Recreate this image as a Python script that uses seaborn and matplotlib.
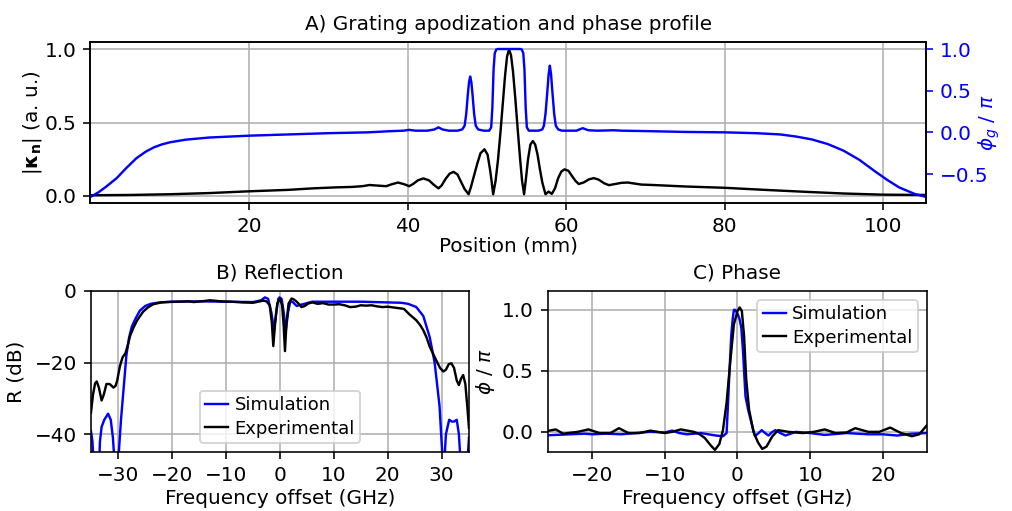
import matplotlib
matplotlib.use("Agg")
import matplotlib.pyplot as plt
import seaborn as sns

# ---------------- A) apodization and phase profile ----------------
pos_kappa = [0, 5, 10, 15, 20, 25, 28, 31, 33, 34.3, 35.2, 36.5, 37.3, 38.0, 38.8, 39.6, 40.2, 40.7, 41.3,
             42.0, 42.7, 43.3, 43.9, 44.3, 44.8, 45.3, 45.8, 46.3, 46.7, 47.2, 47.7, 48.0, 48.4, 48.8, 49.2,
             49.7, 50.1, 50.4, 50.6, 50.8, 51.1, 51.4, 51.7, 52.0, 52.3, 52.55, 52.8, 53.05, 53.3, 53.6, 53.9,
             54.2, 54.45, 54.7, 54.9, 55.2, 55.5, 55.8, 56.1, 56.4, 56.7, 57.0, 57.4, 57.8, 58.2, 58.6, 59.0,
             59.4, 59.8, 60.3, 60.8, 61.2, 61.6, 62.2, 62.9, 63.5, 64.1, 64.8, 65.4, 66.2, 67.0, 67.8, 68.5,
             69.5, 71, 75, 80, 85, 90, 95, 100, 105.4]
kappa = [0.003, 0.005, 0.01, 0.018, 0.03, 0.04, 0.05, 0.057, 0.06, 0.065, 0.073, 0.068, 0.065, 0.078, 0.09,
         0.078, 0.065, 0.08, 0.105, 0.118, 0.105, 0.075, 0.05, 0.07, 0.115, 0.15, 0.163, 0.145, 0.1, 0.045,
         0.01, 0.06, 0.14, 0.22, 0.29, 0.317, 0.28, 0.18, 0.1, 0.01, 0.1, 0.24, 0.42, 0.62, 0.82, 0.95, 1.0,
         0.96, 0.85, 0.66, 0.45, 0.25, 0.1, 0.01, 0.1, 0.25, 0.35, 0.373, 0.35, 0.28, 0.18, 0.09, 0.01,
         0.028, 0.012, 0.05, 0.12, 0.165, 0.18, 0.17, 0.13, 0.1, 0.08, 0.09, 0.112, 0.12, 0.11, 0.085,
         0.072, 0.08, 0.088, 0.09, 0.084, 0.076, 0.073, 0.063, 0.054, 0.04, 0.027, 0.015, 0.007, 0.005]

pos_phase = [0, 1, 2, 3.3, 4.5, 5.8, 7, 8, 9, 10, 12, 15, 20, 25, 30, 35, 38, 39.5, 40.2, 41, 42.5, 43.4,
             43.9, 44.4, 45.2, 46.3, 46.9, 47.2, 47.4, 47.6, 47.75, 47.9, 48.05, 48.2, 48.4, 48.6, 48.9, 49.6,
             50.3, 50.55, 50.7, 50.85, 51.0, 51.2, 51.4, 54.2, 54.4, 54.6, 54.75, 54.9, 55.05, 55.3, 56.5,
             57.0, 57.2, 57.4, 57.6, 57.8, 57.95, 58.1, 58.3, 58.5, 58.7, 59.0, 59.5, 61.3, 62.1, 62.8, 64,
             66, 67, 70, 75, 80, 84, 87, 89, 91, 93, 95, 97, 99, 100.5, 102, 104, 105.4]
phase_g = [-0.775, -0.72, -0.65, -0.55, -0.43, -0.31, -0.23, -0.18, -0.145, -0.12, -0.088, -0.062, -0.04,
           -0.025, -0.01, 0.0, 0.015, 0.02, 0.03, 0.02, 0.02, 0.035, 0.06, 0.035, 0.02, 0.02, 0.035, 0.08,
           0.22, 0.45, 0.6, 0.67, 0.6, 0.45, 0.22, 0.08, 0.035, 0.02, 0.02, 0.06, 0.3, 0.75, 0.95, 0.995,
           1.0, 1.0, 0.995, 0.95, 0.75, 0.3, 0.06, 0.02, 0.02, 0.035, 0.08, 0.22, 0.45, 0.7, 0.8, 0.7, 0.45,
           0.22, 0.08, 0.035, 0.02, 0.02, 0.05, 0.025, 0.02, 0.025, 0.02, 0.015, 0.005, 0.0, -0.01, -0.025,
           -0.05, -0.085, -0.14, -0.22, -0.33, -0.47, -0.57, -0.66, -0.74, -0.775]

# ---------------- B) Reflection ----------------
freq_sim_R = [-35.07, -34.8, -34.5, -34.0, -33.6, -33.4, -33.1, -32.6, -31.9, -31.4, -31.0, -30.6, -30.3,
              -29.9, -29.5, -29.0, -28.5, -28.0, -27.5, -26.9, -26.0, -25.0, -24.0, -22.3, -20, -15, -10, -5,
              -3.5, -2.8, -2.2, -1.6, -1.1, -0.7, -0.3, -0.1, 0.3, 0.7, 1.1, 1.5, 1.9, 2.3, 3.1, 4, 6, 10, 15,
              20, 22.5, 23.8, 25.3, 26.6, 27.8, 28.7, 29.6, 30.1, 30.4, 30.6, 30.8, 31.4, 31.9, 32.3, 32.8,
              33.2, 33.6, 34.0, 34.7, 35.07]
R_sim = [-39.2, -42, -50, -60, -50, -42, -38, -36, -34.3, -36, -41, -50, -60, -45, -36, -27, -18, -13, -10,
         -8, -5.5, -4.2, -3.6, -3.2, -3.0, -2.9, -3.0, -3.1, -2.6, -1.8, -2.2, -6, -11, -6, -2.2, -1.8, -2.2,
         -6, -11, -6, -3.0, -3.0, -4.2, -3.8, -3.0, -3.0, -3.0, -3.2, -3.3, -3.6, -4.5, -7, -13, -20, -32,
         -45, -60, -45, -40, -36, -36.5, -36.5, -36, -40, -50, -60, -50, -41]

freq_exp_R = [-35.07, -34.7, -34.3, -34.0, -33.6, -33.1, -32.7, -32.2, -31.6, -30.9, -30.5, -30.2, -29.7,
              -29.2, -28.7, -28.3, -27.8, -27.2, -26.5, -25.4, -24.5, -23.5, -22, -21, -19, -17, -16, -14,
              -13, -11, -9, -7, -5, -4, -3.1, -2.5, -1.9, -1.5, -1.24, -0.9, -0.5, 0, 0.4, 0.7, 0.93, 1.2,
              1.6, 2.16, 2.6, 3.1, 3.6, 4.0, 4.6, 5.25, 6, 7, 8, 9, 10, 11, 12, 13, 14, 15, 16, 17, 18, 19,
              20, 21, 22, 23, 24, 25.3, 26.0, 26.6, 27.2, 27.8, 28.4, 29, 29.7, 30.3, 30.8, 31.3, 31.8, 32.3,
              32.8, 33.2, 33.6, 34.0, 34.4, 34.8, 35.07]
R_exp = [-34, -29, -25.8, -25.3, -27, -30.6, -29, -26, -26, -27, -26.5, -25, -21, -18.5, -17.5, -15.5,
         -12.5, -10.3, -8.2, -5.8, -4.6, -3.7, -3.2, -3.1, -3.0, -2.9, -3.1, -2.8, -2.6, -2.9, -3.0, -3.2,
         -3.3, -3.0, -2.7, -2.9, -4, -9, -15.4, -9, -3.5, -2.1, -4, -10, -16.8, -9, -3.5, -2.1, -2.4, -3.0,
         -3.8, -4.5, -4.2, -3.5, -3.2, -3.6, -3.4, -3.8, -3.8, -3.7, -4.0, -4.5, -4.4, -4.0, -4.1, -4.0,
         -4.3, -4.5, -4.4, -4.6, -4.8, -5.0, -6.5, -8.2, -9.5, -11, -13, -15.6, -17.5, -19.4, -21.5, -22.5,
         -22, -20.5, -20.2, -21.5, -25, -26.3, -24.5, -23.5, -26, -33, -38.3]

# ---------------- C) Phase ----------------
freq_sim_phi = [-26.07, -25, -23, -21, -20, -18, -16, -14, -12, -10, -9, -8, -7, -5, -3, -2, -1.5, -1.33,
                -1.1, -0.86, -0.65, -0.49, -0.3, 0.07, 0.3, 0.53, 0.77, 0.95, 1.1, 1.47, 1.93, 2.4, 2.9,
                3.33, 3.8, 4.27, 4.7, 5.2, 5.9, 6.6, 8.0, 10, 12, 15, 18, 20, 22, 24, 26.07]
phi_sim = [-0.028, -0.025, -0.02, -0.015, -0.02, -0.015, -0.02, -0.01, 0.0, -0.005, 0.01, -0.01, -0.02,
           -0.01, -0.03, -0.036, -0.01, 0.2, 0.5, 0.79, 0.93, 1.0, 1.0, 0.96, 0.92, 0.85, 0.65, 0.45, 0.29,
           0.18, 0.07, -0.036, -0.01, 0.014, -0.01, -0.03, -0.005, 0.014, -0.01, -0.03, 0.0, -0.01, -0.025,
           -0.01, -0.02, -0.02, -0.03, -0.015, -0.01]

freq_exp_phi = [-26.07, -25, -24, -22, -20.5, -19, -17.5, -16.3, -15, -13.5, -12, -10, -9, -7.8, -6, -5.2,
                -4.5, -3.7, -3.1, -2.5, -2.0, -1.5, -1.0, -0.5, 0, 0.3, 0.6, 0.9, 1.2, 1.6, 2.2, 2.8, 3.4,
                4.0, 4.8, 5.6, 7, 9, 10.5, 12, 13.5, 15, 16.2, 18, 19.5, 21, 22.5, 24, 25, 26.07]
phi_exp = [0.008, 0.02, -0.015, 0.0, 0.02, -0.01, -0.01, 0.03, -0.01, -0.01, 0.01, -0.01, 0.0, 0.02, 0.0,
           -0.02, -0.05, -0.11, -0.148, -0.1, 0.014, 0.24, 0.57, 0.88, 0.99, 1.02, 0.99, 0.79, 0.43, 0.18,
           0.0, -0.084, -0.14, -0.12, -0.036, 0.014, 0.0, -0.01, 0.0, 0.02, -0.01, -0.005, 0.03, 0.0, 0.0,
           0.035, -0.01, -0.036, -0.02, 0.055]

plt.rcParams['font.family'] = ['DejaVu Sans']
plt.rcParams['font.size'] = 10
plt.rcParams['mathtext.fontset'] = 'dejavusans'

DPI = 144
fig = plt.figure(figsize=(1012 / DPI, 511 / DPI), dpi=DPI)
LW = 1.2
LEG = dict(fontsize=9, handlelength=1.3, handletextpad=0.35, borderpad=0.3, labelspacing=0.3)

# ---- Panel A ----
axA = fig.add_axes([0.0894, 0.6027, 0.8256, 0.3151])
sns.lineplot(x=pos_kappa, y=kappa, ax=axA, color='black', lw=LW, sort=False, estimator=None)
axA.set_xlim(0, 105.4)
axA.set_ylim(-0.05, 1.05)
axA.set_yticks([0.0, 0.5, 1.0])
axA.set_xticks([20, 40, 60, 80, 100])
axA.grid(True)
axA.set_xlabel('Position (mm)', labelpad=0)
axA.set_ylabel(r'$|\mathbf{\kappa_n}|$ (a. u.)')
axA.yaxis.set_label_coords(-0.056, 0.5)
axA.set_title('A) Grating apodization and phase profile', fontsize=10)

axA2 = axA.twinx()
sns.lineplot(x=pos_phase, y=phase_g, ax=axA2, color='blue', lw=LW, sort=False, estimator=None)
axA2.set_ylim(-0.848, 1.084)
axA2.set_yticks([-0.5, 0.0, 0.5, 1.0])
axA2.tick_params(axis='y', colors='blue')
axA2.set_ylabel(r'$\phi_g$ / $\pi$', color='blue')
axA2.yaxis.set_label_coords(1.061, 0.5)

# ---- Panel B ----
axB = fig.add_axes([0.0899, 0.1155, 0.3735, 0.3151])
sns.lineplot(x=freq_sim_R, y=R_sim, ax=axB, color='blue', lw=LW, sort=False, estimator=None,
             label='Simulation')
sns.lineplot(x=freq_exp_R, y=R_exp, ax=axB, color='black', lw=LW, sort=False, estimator=None,
             label='Experimental')
axB.set_xlim(-35.07, 35.07)
axB.set_ylim(-45, 0)
axB.set_xticks([-30, -20, -10, 0, 10, 20, 30])
axB.set_yticks([-40, -20, 0])
axB.grid(True)
axB.set_xlabel('Frequency offset (GHz)', labelpad=2)
axB.set_ylabel('R (dB)')
axB.yaxis.set_label_coords(-0.172, 0.5)
axB.set_title('B) Reflection', fontsize=10)
axB.legend(loc='lower center', **LEG)

# ---- Panel C ----
axC = fig.add_axes([0.5415, 0.1155, 0.3745, 0.3151])
sns.lineplot(x=freq_sim_phi, y=phi_sim, ax=axC, color='blue', lw=LW, sort=False, estimator=None,
             label='Simulation')
sns.lineplot(x=freq_exp_phi, y=phi_exp, ax=axC, color='black', lw=LW, sort=False, estimator=None,
             label='Experimental')
axC.set_xlim(-26.07, 26.07)
axC.set_ylim(-0.165, 1.155)
axC.set_xticks([-20, -10, 0, 10, 20])
axC.set_yticks([0.0, 0.5, 1.0])
axC.grid(True)
axC.set_xlabel('Frequency offset (GHz)', labelpad=2)
axC.set_ylabel(r'$\phi$ / $\pi$')
axC.yaxis.set_label_coords(-0.135, 0.5)
axC.set_title('C) Phase', fontsize=10)
axC.legend(loc='upper right', **LEG)

fig.savefig('out.png', dpi=DPI)
